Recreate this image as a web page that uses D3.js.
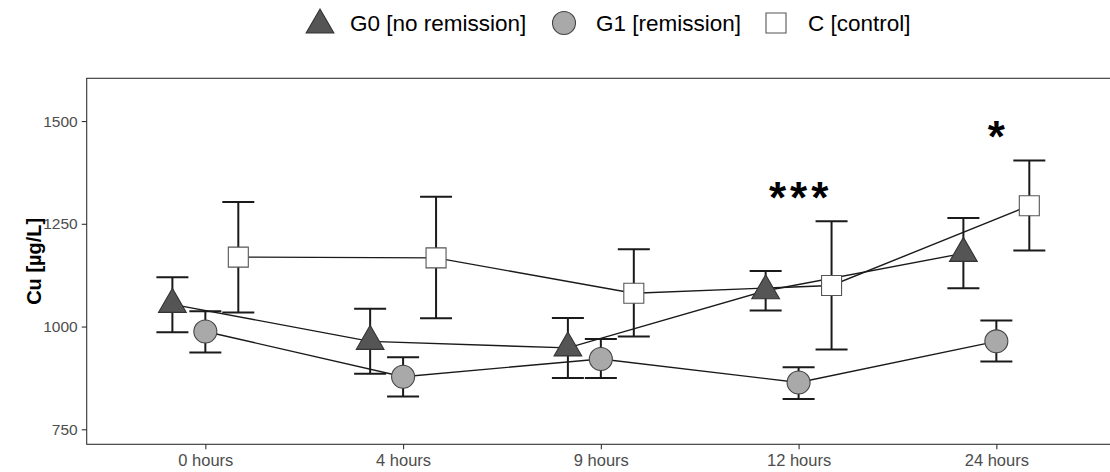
<!DOCTYPE html>
<html>
<head>
<meta charset="utf-8">
<script src="https://cdn.jsdelivr.net/npm/d3@7"></script>
<style>
  html, body { margin: 0; padding: 0; background: #fff; }
  svg { display: block; font-family: "Liberation Sans", Arial, sans-serif; }
</style>
</head>
<body>
<svg id="chart" width="1110" height="472"></svg>
<script>
// Sampling times (x categories)
const times = ["0 hours", "4 hours", "9 hours", "12 hours", "24 hours"];

// Group means and error-bar limits, Cu in µg/L
const g0Mean = [1054, 964, 948, 1087, 1178];
const g0Low  = [986, 885, 875, 1039, 1093];
const g0High = [1120, 1043, 1021, 1135, 1264];

const g1Mean = [988, 878, 921, 864, 964];
const g1Low  = [937, 830, 875, 824, 915];
const g1High = [1037, 925, 970, 901, 1015];

const cMean = [1169, 1167, 1081, 1100, 1294];
const cLow  = [1034, 1020, 976, 944, 1185];
const cHigh = [1303, 1316, 1188, 1256, 1404];

const groupNames = ["G0 [no remission]", "G1 [remission]", "C [control]"];

const yTicks = [750, 1000, 1250, 1500];

// Significance marks placed above a time point
const sigLabels = ["***", "*"];
const sigTimes  = ["12 hours", "24 hours"];
const sigValues = [1330, 1478];

// ---------------------------------------------------------------
const groups = [
  { name: groupNames[0], mean: g0Mean, lo: g0Low, hi: g0High, shape: "triangle", fill: "#555555", stroke: "#333333", dodge: -1 / 6 },
  { name: groupNames[1], mean: g1Mean, lo: g1Low, hi: g1High, shape: "circle",   fill: "#a9a9a9", stroke: "#444444", dodge: 0 },
  { name: groupNames[2], mean: cMean,  lo: cLow,  hi: cHigh,  shape: "square",   fill: "#ffffff", stroke: "#555555", dodge: 1 / 6 }
];

const panel = { left: 86.7, right: 1115, top: 78.3, bottom: 444.3 };

const svg = d3.select("#chart");

// Discrete positions with 0.6 padding on each side
const x = d3.scaleLinear().domain([-0.6, times.length - 1 + 0.6]).range([panel.left, panel.right]);
const y = d3.scaleLinear().domain([713.5, 1604]).range([panel.bottom, panel.top]);

const tickCol = "#333333";
const labelCol = "#4d4d4d";

// Panel border
svg.append("rect")
  .attr("x", panel.left).attr("y", panel.top)
  .attr("width", panel.right - panel.left).attr("height", panel.bottom - panel.top)
  .attr("fill", "none").attr("stroke", tickCol).attr("stroke-width", 1.1);

// Y axis
const yAxis = svg.append("g")
  .attr("transform", `translate(${panel.left},0)`)
  .call(d3.axisLeft(y).tickValues(yTicks).tickSize(5).tickPadding(4).tickFormat(d3.format("d")));
yAxis.select(".domain").remove();
yAxis.selectAll(".tick line").attr("stroke", tickCol).attr("stroke-width", 1.1);
yAxis.selectAll(".tick text")
  .attr("fill", labelCol).attr("font-size", 15.5)
  .attr("font-family", "Liberation Sans, Arial, sans-serif");

// X axis
const xAxis = svg.append("g")
  .attr("transform", `translate(0,${panel.bottom})`)
  .call(d3.axisBottom(x).tickValues(d3.range(times.length)).tickSize(5).tickPadding(5).tickFormat(i => times[i]));
xAxis.select(".domain").remove();
xAxis.selectAll(".tick line").attr("stroke", tickCol).attr("stroke-width", 1.1);
xAxis.selectAll(".tick text")
  .attr("fill", labelCol).attr("font-size", 16.5)
  .attr("font-family", "Liberation Sans, Arial, sans-serif");

// Y axis title
svg.append("text")
  .attr("transform", `translate(41,${(panel.top + panel.bottom) / 2}) rotate(-90)`)
  .attr("text-anchor", "middle")
  .attr("font-size", 20).attr("font-weight", "bold").attr("fill", "#000")
  .text("Cu [µg/L]");

const px = (g, i) => x(i + g.dodge);

// Connecting lines
const line = d3.line().x(d => d[0]).y(d => d[1]);
groups.forEach(g => {
  svg.append("path")
    .attr("d", line(g.mean.map((v, i) => [px(g, i), y(v)])))
    .attr("fill", "none").attr("stroke", "#1a1a1a").attr("stroke-width", 1.4);
});

// Error bars
const capHalf = 16;
groups.forEach(g => {
  const eb = svg.append("g").attr("stroke", "#1a1a1a").attr("stroke-width", 2);
  g.mean.forEach((v, i) => {
    const cx = px(g, i);
    eb.append("line").attr("x1", cx).attr("x2", cx).attr("y1", y(g.lo[i])).attr("y2", y(g.hi[i]));
    eb.append("line").attr("x1", cx - capHalf).attr("x2", cx + capHalf).attr("y1", y(g.lo[i])).attr("y2", y(g.lo[i]));
    eb.append("line").attr("x1", cx - capHalf).attr("x2", cx + capHalf).attr("y1", y(g.hi[i])).attr("y2", y(g.hi[i]));
  });
});

// Marker shapes
const symbolFor = {
  triangle: d3.symbol().type(d3.symbolTriangle).size(333),
  circle:   d3.symbol().type(d3.symbolCircle).size(Math.PI * 11.5 * 11.5),
  square:   d3.symbol().type(d3.symbolSquare).size(20 * 20)
};

groups.forEach(g => {
  svg.append("g").selectAll("path")
    .data(g.mean)
    .join("path")
    .attr("d", symbolFor[g.shape]())
    .attr("transform", (v, i) => `translate(${px(g, i)},${y(v)})`)
    .attr("fill", g.fill).attr("stroke", g.stroke).attr("stroke-width", 1.1);
});

// Significance asterisks
const sigSize = 44;
sigLabels.forEach((lab, k) => {
  const i = times.indexOf(sigTimes[k]);
  svg.append("text")
    .attr("x", x(i) + (lab.length > 1 ? 2 : 0)).attr("y", y(sigValues[k]) + sigSize * 0.5)
    .attr("text-anchor", "middle")
    .attr("letter-spacing", lab.length > 1 ? 4 : 0)
    .attr("font-size", sigSize).attr("font-weight", "bold").attr("fill", "#000")
    .text(lab);
});

// Legend
const legendItems = [
  { g: groups[0], sx: 320, tx: 350 },
  { g: groups[1], sx: 564, tx: 596 },
  { g: groups[2], sx: 776, tx: 808 }
];
const legend = svg.append("g");
legendItems.forEach(it => {
  legend.append("path")
    .attr("d", symbolFor[it.g.shape]())
    .attr("transform", `translate(${it.sx},${it.g.shape === "triangle" ? 25 : 23})`)
    .attr("fill", it.g.fill).attr("stroke", it.g.stroke).attr("stroke-width", 1.1);
  legend.append("text")
    .attr("x", it.tx).attr("y", 31)
    .attr("font-size", 22.5).attr("fill", "#000")
    .text(it.g.name);
});
</script>
</body>
</html>
